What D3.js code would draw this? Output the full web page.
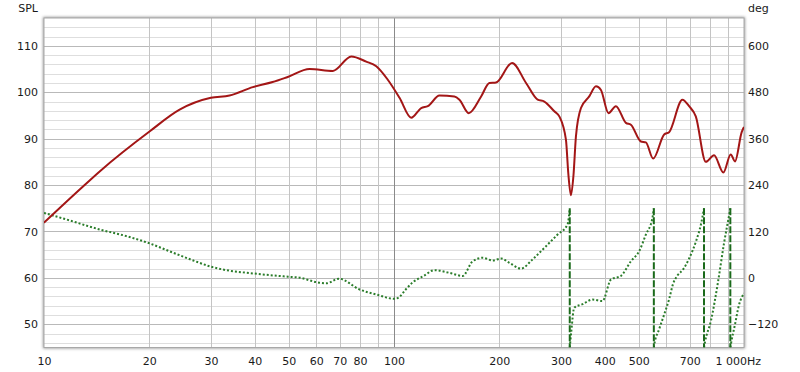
<!DOCTYPE html>
<html>
<head>
<meta charset="utf-8">
<script src="https://cdn.jsdelivr.net/npm/d3@7"></script>
<style>
  body { margin: 0; background: #fff; }
  svg text { font-family: "DejaVu Sans", sans-serif; font-size: 11px; fill: #1a1a1a; }
</style>
</head>
<body>
<svg id="chart" width="800" height="372"></svg>
<script>
// SPL magnitude response (Hz, dB)
const splFreq = [10, 12.67, 14.45, 20.06, 24.4, 29.97, 33.9, 39.5, 45.0, 49.7, 57.4, 66.9, 75.5, 83.3, 89.0, 96.0,
    103.7, 112, 119.6, 124.9, 134.9, 148.8, 153.8, 163.5, 177.4, 187.3, 195.7, 217.4, 238.4, 257.3, 268.8, 287.1,
    296.7, 309.9, 314.8, 320.3, 325.6, 331.0, 342.1, 361.3, 377.6, 390.2, 410.1, 430.5, 459.8, 475.1, 507.4, 524.3,
    550.2, 591.4, 611.0, 666.8, 696.8, 728.2, 778, 821.1, 873, 916.4, 942.6, 984.9, 1000];
const splDb = [71.9, 79.1, 83.0, 91.6, 96.25, 98.8, 99.3, 101.1, 102.2, 103.3, 105.0, 104.6, 107.7, 106.6, 105.6, 102.7,
    98.8, 94.5, 96.6, 97.0, 99.3, 99.1, 98.4, 95.5, 99.1, 102.0, 102.1, 106.3, 102.0, 98.4, 98.0, 95.9,
    94.8, 89.8, 82.5, 77.8, 82.0, 90.5, 96.6, 99.1, 101.3, 100.5, 95.5, 97.0, 93.4, 93.0, 89.4, 89.2,
    85.7, 90.9, 91.4, 98.4, 97.0, 94.8, 85.0, 86.4, 82.7, 86.6, 85.1, 91.4, 92.5];

// phase, unwrapped (Hz, deg) -- wrapped to +/-180 when drawn
const phaseFreq = [10, 11.6, 14.45, 17.2, 20.06, 23.4, 26.7, 29.97, 33.2, 39.6, 49.8, 53.8, 60.0, 64.1, 69.6, 79.7,
    89.0, 100.3, 103, 108, 113, 122, 130.5, 144.0, 157.1, 167.8, 179.2, 191.4, 202.3, 213.6, 230.7, 248.9,
    271.9, 293.3, 313.2, 317.8, 320.9, 327.3, 345.6, 369.1, 394.1, 416.8, 444.9, 475.1, 501.7, 524.3, 547.5,
    553.6, 572.1, 591.3, 611, 627.3, 644, 669.9, 696.8, 729.5, 754, 767, 774, 805, 843, 877, 912,
    918, 942.6, 967.6, 1000];
const phaseDeg = [168, 151, 125, 108, 89, 65, 45, 29, 20, 11.5, 3, 0.5, -11, -14, -2, -30,
    -43, -54, -51, -30, -12, 6, 20, 13, 5, 43, 52, 45, 50, 39, 24, 48,
    82, 112, 138, 180, 220, 283, 292, 304, 300, 356, 365, 403, 429, 472, 515,
    545, 587, 625, 665, 705, 725, 742, 770, 815, 860, 895, 915, 970, 1070, 1170, 1255,
    1270, 1320, 1370, 1400];

const splTicks = [50, 60, 70, 80, 90, 100, 110];
const degTicks = [-120, 0, 120, 240, 360, 480, 600];
const freqTicks = [10, 20, 30, 40, 50, 60, 70, 80, 100, 200, 300, 400, 500, 700, 1000];
const freqGrid = [20, 30, 40, 50, 60, 70, 80, 90, 200, 300, 400, 500, 600, 700, 800, 900];

const plot = { left: 44, right: 744, top: 18, bottom: 347.5 };

const svg = d3.select("#chart");

const x = d3.scaleLog().domain([10, 1000]).range([plot.left, plot.right]);
const y = d3.scaleLinear().domain([45, 116]).range([plot.bottom, plot.top]);
const yDeg = d3.scaleLinear().domain([-180, 672]).range([plot.bottom, plot.top]);

// soft shadow round the plot frame
const defs = svg.append("defs");
defs.append("filter").attr("id", "blur").attr("x", "-5%").attr("y", "-5%").attr("width", "110%").attr("height", "110%")
    .append("feGaussianBlur").attr("stdDeviation", 1.6);
defs.append("clipPath").attr("id", "clip")
    .append("rect")
    .attr("x", plot.left).attr("y", plot.top)
    .attr("width", plot.right - plot.left).attr("height", plot.bottom - plot.top);

svg.append("rect")
    .attr("x", plot.left - 1).attr("y", plot.top - 1)
    .attr("width", plot.right - plot.left + 2).attr("height", plot.bottom - plot.top + 2)
    .attr("fill", "#9a9a9a")
    .attr("filter", "url(#blur)");
svg.append("rect")
    .attr("x", plot.left).attr("y", plot.top)
    .attr("width", plot.right - plot.left).attr("height", plot.bottom - plot.top)
    .attr("fill", "#fff");

// grid
const grid = svg.append("g");
grid.selectAll(".hgrid")
    .data(d3.range(46, 116, 2))
    .join("line")
    .attr("x1", plot.left).attr("x2", plot.right)
    .attr("y1", d => Math.round(y(d)) + 0.5).attr("y2", d => Math.round(y(d)) + 0.5)
    .attr("stroke", d => d % 10 === 0 ? "#b9b9b9" : "#dedede")
    .attr("stroke-width", 1);
grid.selectAll(".vgrid")
    .data(freqGrid)
    .join("line")
    .attr("x1", d => Math.round(x(d)) + 0.5).attr("x2", d => Math.round(x(d)) + 0.5)
    .attr("y1", plot.top).attr("y2", plot.bottom)
    .attr("stroke", "#c4c4c4")
    .attr("stroke-width", 1);
grid.append("line")
    .attr("x1", Math.round(x(100)) + 0.5).attr("x2", Math.round(x(100)) + 0.5)
    .attr("y1", plot.top).attr("y2", plot.bottom)
    .attr("stroke", "#8a8a8a")
    .attr("stroke-width", 1);

svg.append("rect")
    .attr("x", plot.left).attr("y", plot.top)
    .attr("width", plot.right - plot.left).attr("height", plot.bottom - plot.top)
    .attr("fill", "none")
    .attr("stroke", "#a8a8a8")
    .attr("stroke-width", 1);

// phase: wrap to +/-180, splitting into segments at each wrap
const phasePts = phaseFreq.map((f, i) => ({ f: f, p: phaseDeg[i] }));
const wrapIndex = p => Math.floor((p + 180) / 360);
const segments = [];
const wraps = [];
let current = [];
phasePts.forEach((d, i) => {
    if (i > 0) {
        const prev = phasePts[i - 1];
        const k0 = wrapIndex(prev.p), k1 = wrapIndex(d.p);
        if (k1 !== k0) {
            const edge = k1 * 360 - 180;
            const t = (edge - prev.p) / (d.p - prev.p);
            const lf = Math.log10(prev.f) + t * (Math.log10(d.f) - Math.log10(prev.f));
            const fc = Math.pow(10, lf);
            current.push({ f: fc, w: 180 });
            segments.push(current);
            wraps.push(fc);
            current = [{ f: fc, w: -180 }];
        }
    }
    current.push({ f: d.f, w: d.p - wrapIndex(d.p) * 360 });
});
segments.push(current);

const lines = svg.append("g").attr("clip-path", "url(#clip)");

const phaseLine = d3.line()
    .x(d => x(d.f))
    .y(d => yDeg(d.w))
    .curve(d3.curveMonotoneX);

lines.selectAll(".phase")
    .data(segments)
    .join("path")
    .attr("d", phaseLine)
    .attr("fill", "none")
    .attr("stroke", "#2b7d2b")
    .attr("stroke-width", 2)
    .attr("stroke-dasharray", "2,2");

lines.selectAll(".wrap")
    .data(wraps)
    .join("line")
    .attr("x1", d => x(d)).attr("x2", d => x(d))
    .attr("y1", yDeg(180)).attr("y2", yDeg(-180))
    .attr("stroke", "#1b6a1b")
    .attr("stroke-width", 2)
    .attr("stroke-dasharray", "7,2");

// SPL
const splLine = d3.line()
    .x((d, i) => x(splFreq[i]))
    .y(d => y(d))
    .curve(d3.curveMonotoneX);

lines.append("path")
    .datum(splDb)
    .attr("d", splLine)
    .attr("fill", "none")
    .attr("stroke", "#a31616")
    .attr("stroke-width", 2)
    .attr("stroke-linejoin", "round");

// axes
const leftAxis = svg.append("g")
    .attr("transform", `translate(${plot.left},0)`)
    .call(d3.axisLeft(y).tickValues(splTicks).tickSize(0).tickPadding(6));
const rightAxis = svg.append("g")
    .attr("transform", `translate(${plot.right},0)`)
    .call(d3.axisRight(yDeg).tickValues(degTicks).tickSize(0).tickPadding(4));
const bottomAxis = svg.append("g")
    .attr("transform", `translate(0,${plot.bottom})`)
    .call(d3.axisBottom(x).tickValues(freqTicks).tickSize(0).tickPadding(9.5)
        .tickFormat(d => d === 1000 ? "1 000Hz" : d));

[leftAxis, rightAxis, bottomAxis].forEach(g => {
    g.select(".domain").remove();
    g.attr("font-family", null).attr("font-size", null);
    g.selectAll("text").attr("fill", null);
});
bottomAxis.selectAll("text")
    .filter(d => d === 1000)
    .attr("text-anchor", "start")
    .attr("x", -29);

svg.append("text")
    .attr("x", 38).attr("y", 12)
    .attr("text-anchor", "end")
    .text("SPL");
svg.append("text")
    .attr("x", 748).attr("y", 12)
    .text("deg");
</script>
</body>
</html>
